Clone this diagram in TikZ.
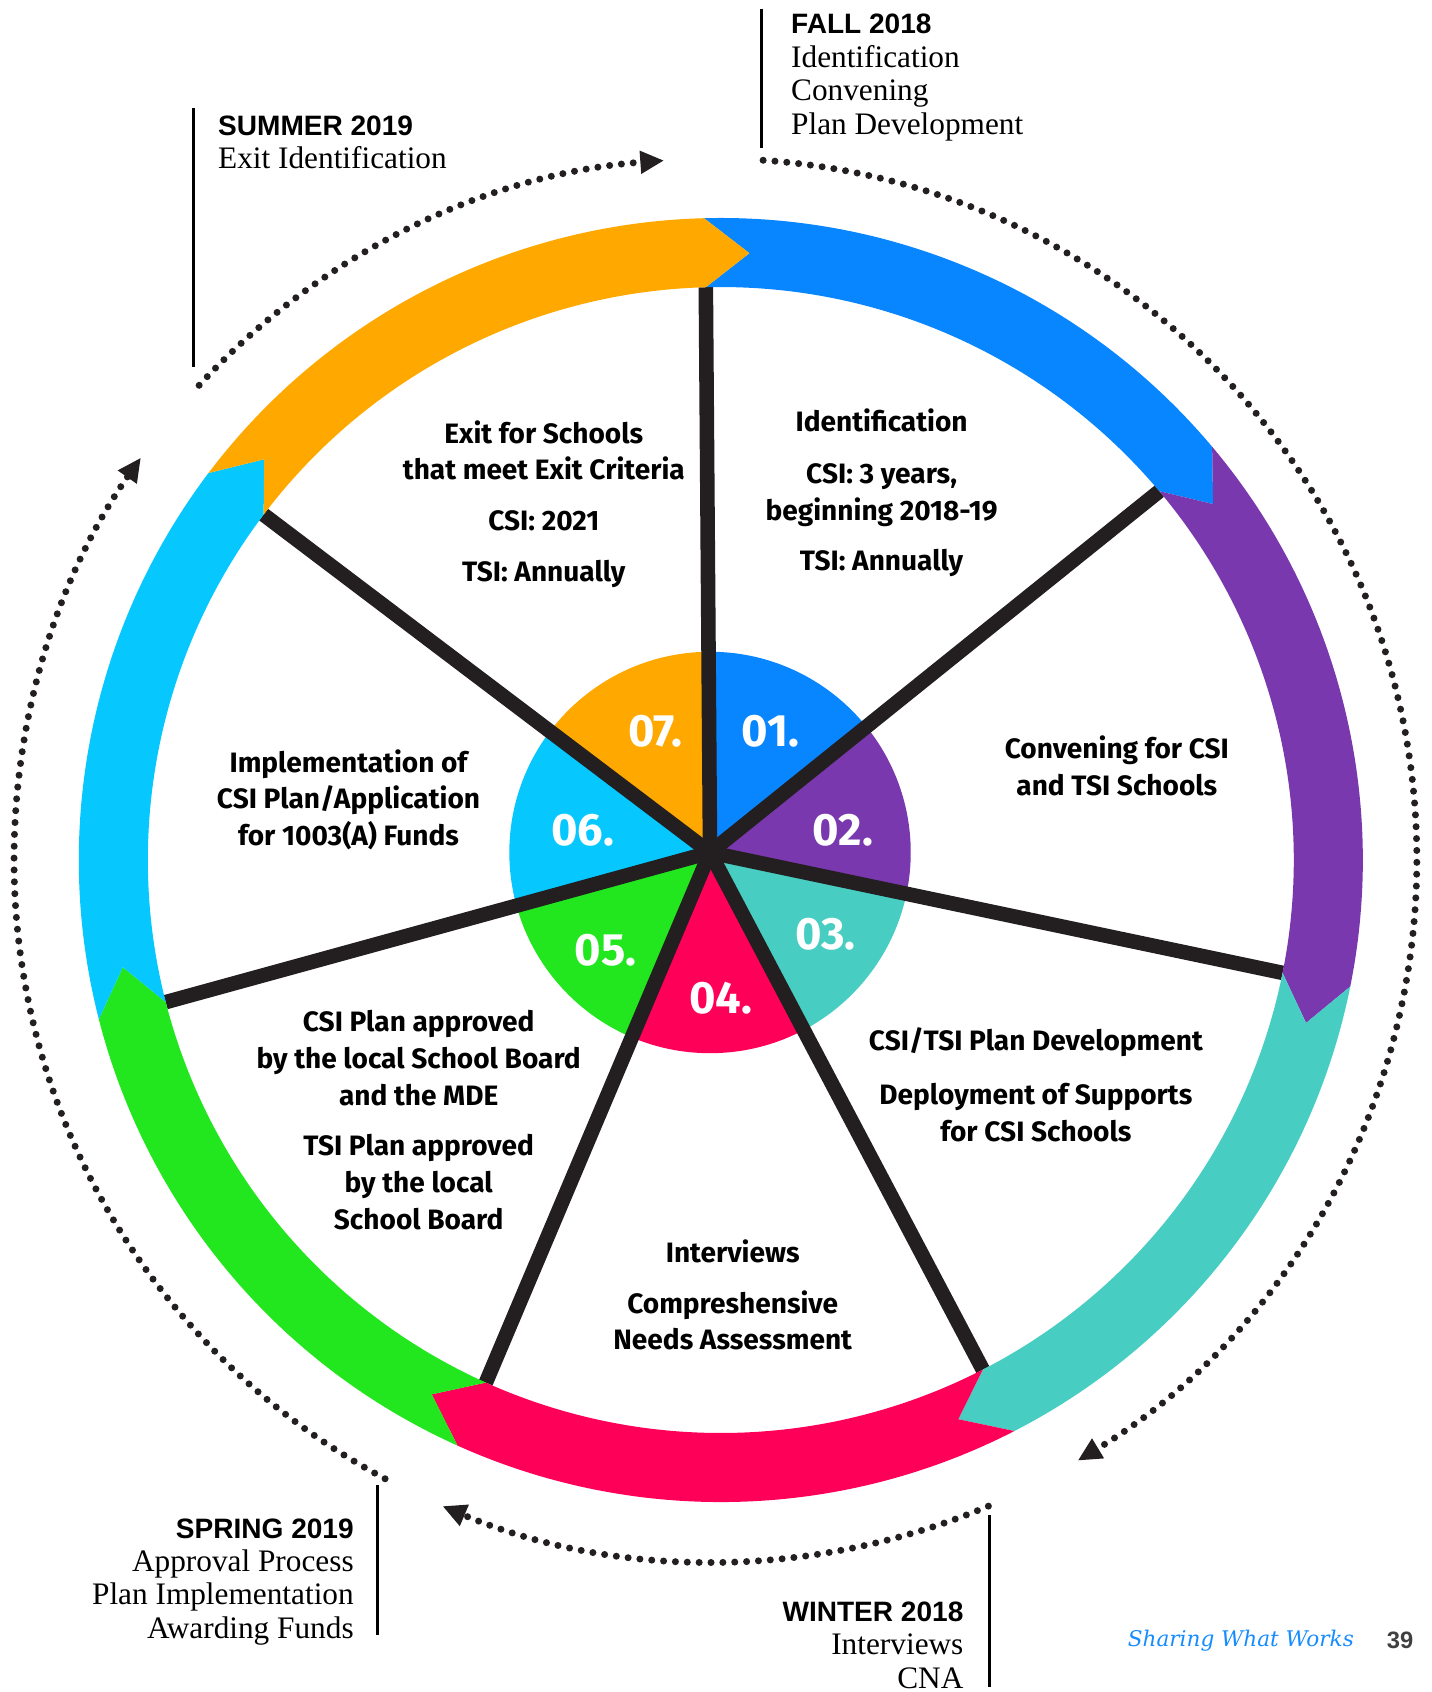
\documentclass[tikz,border=0pt]{standalone}
\usepackage{fontspec}
\setmainfont{Liberation Serif}
\newfontfamily\seasonfont{Liberation Sans}
\newfontfamily\wheelfont{Fira Sans}
\newfontfamily\footerfont{DejaVu Serif}
\usetikzlibrary{positioning}
\usetikzlibrary{arrows.meta}

\definecolor{phaseone}{RGB}{8,134,255}
\definecolor{phasetwo}{RGB}{122,56,174}
\definecolor{phasethree}{RGB}{72,205,194}
\definecolor{phasefour}{RGB}{255,0,89}
\definecolor{phasefive}{RGB}{34,230,30}
\definecolor{phasesix}{RGB}{6,200,255}
\definecolor{phaseseven}{RGB}{255,168,0}
\definecolor{spokegray}{RGB}{35,31,32}
\definecolor{footblue}{RGB}{22,140,255}
\definecolor{pagegray}{RGB}{64,64,64}

\newcommand{\ringout}{595}
\newcommand{\ringin}{531}
\newcommand{\ringmid}{563}
\newcommand{\tipang}{4.2}
\newcommand{\slice}{51.43}
\newcommand{\seasonhead}[1]{{\seasonfont\bfseries\fontsize{26}{31}\selectfont #1}}

\begin{document}
\begin{tikzpicture}[x=1pt,y=1pt,
    spoke/.style={draw=spokegray,line width=13.5pt},
    season/.style={draw=spokegray,line width=6.5pt,line cap=round,
        dash pattern=on 0pt off 11pt,-{Triangle[length=22pt,width=20pt]}},
    tick/.style={draw=black,line width=3pt},
    phasetext/.style={align=center,inner sep=0pt,
        font=\wheelfont\bfseries\fontsize{26}{34}\selectfont},
    phasenum/.style={text=white,inner sep=0pt,
        font=\wheelfont\bfseries\fontsize{42}{42}\selectfont},
    seasontext/.style={inner sep=0pt,font=\fontsize{29}{31}\selectfont}]

    \useasboundingbox (-668,-771) rectangle (659,797);

    % pie in the middle
    \coordinate (hub) at (-10,7);
    \begin{scope}
        \clip (hub) circle (186);
        \foreach \a/\c in {91.5/phaseone,40.07/phasetwo,-11.36/phasethree,
            -62.79/phasefour,-114.21/phasefive,-165.64/phasesix,-217.07/phaseseven}
            \fill[\c] (hub) -- (\a:\ringin) -- ({\a-\slice}:\ringin) -- cycle;
    \end{scope}

    \foreach \a in {91.5,40.07,-11.36,-62.79,-114.21,-165.64,-217.07}
        \draw[spoke] (hub) -- (\a:\ringin);

    % ring of arrows
    \foreach \a/\c in {91.5/phaseone,40.07/phasetwo,-11.36/phasethree,
        -62.79/phasefour,-114.21/phasefive,-165.64/phasesix,-217.07/phaseseven}
        \fill[\c] (\a:\ringout) -- ({\a-\tipang}:\ringmid) -- (\a:\ringin)
            arc[start angle=\a,end angle=\a-\slice,radius=\ringin]
            -- ({\a-\slice-\tipang}:\ringmid) -- ({\a-\slice}:\ringout)
            arc[start angle=\a-\slice,end angle=\a,radius=\ringout] -- cycle;

    \node[phasenum] (numone) at (46,119) {01.};
    \node[phasenum] (numtwo) at (113,28) {02.};
    \node[phasenum] (numthree) at (97,-69) {03.};
    \node[phasenum] (numfour) at (0,-128) {04.};
    \node[phasenum] (numfive) at (-107,-84) {05.};
    \node[phasenum] (numsix) at (-128,28) {06.};
    \node[phasenum] (numseven) at (-61,119) {07.};

    \node[phasetext] (textone) at (149,340)
        {Identification\\[14pt]CSI: 3 years,\\beginning 2018-19\\[13pt]TSI: Annually};
    \node[phasetext] (texttwo) at (367,87) {Convening for CSI\\and TSI Schools};
    \node[phasetext] (textthree) at (292,-208)
        {CSI/TSI Plan Development\\[16pt]Deployment of Supports\\for CSI Schools};
    \node[phasetext] (textfour) at (11,-403)
        {Interviews\\[13pt]Compreshensive\\Needs Assessment};
    \node[phasetext] (textfive) at (-280,-241)
        {CSI Plan approved\\by the local School Board\\and the MDE\\[13pt]TSI Plan approved\\by the local\\School Board};
    \node[phasetext] (textsix) at (-345,56)
        {Implementation of\\CSI Plan/Application\\for 1003(A) Funds};
    \node[phasetext] (textseven) at (-164,330)
        {Exit for Schools\\that meet Exit Criteria\\[13pt]CSI: 2021\\[13pt]TSI: Annually};

    % seasons
    \begin{scope}[shift={(-5,0)}]
        \draw[season] (137.4:650) arc[start angle=137.4,end angle=94.2,radius=650];
        \draw[season] (86.1:650) arc[start angle=86.1,end angle=-58.9,radius=650];
        \draw[season] (-67.1:650) arc[start angle=-67.1,end angle=-112.9,radius=650];
        \draw[season] (-118.1:650) arc[start angle=-118.1,end angle=-215,radius=650];
    \end{scope}

    \draw[tick] (38,789) -- (38,660);
    \draw[tick] (-489,697) -- (-489,457);
    \draw[tick] (-318,-579) -- (-318,-718);
    \draw[tick] (249,-607) -- (249,-766);

    \node[seasontext,anchor=north west,align=left] (fall) at (65,784)
        {\seasonhead{FALL 2018}\\Identification\\Convening\\Plan Development};
    \node[seasontext,anchor=north west,align=left] (summer) at (-466,690)
        {\seasonhead{SUMMER 2019}\\Exit Identification};
    \node[seasontext,anchor=north east,align=right] (spring) at (-340,-610)
        {\seasonhead{SPRING 2019}\\Approval Process\\Plan Implementation\\Awarding Funds};
    \node[seasontext,anchor=north east,align=right] (winter) at (225,-687)
        {\seasonhead{WINTER 2018}\\Interviews\\CNA};

    \node[anchor=base west,inner sep=0pt,text=footblue,
        font=\footerfont\itshape\fontsize{20}{20}\selectfont] (footer) at (377,-729)
        {Sharing What Works};
    \node[anchor=base east,inner sep=0pt,text=pagegray,
        font=\seasonfont\bfseries\fontsize{22}{22}\selectfont] (page) at (642,-731) {39};
\end{tikzpicture}
\end{document}
